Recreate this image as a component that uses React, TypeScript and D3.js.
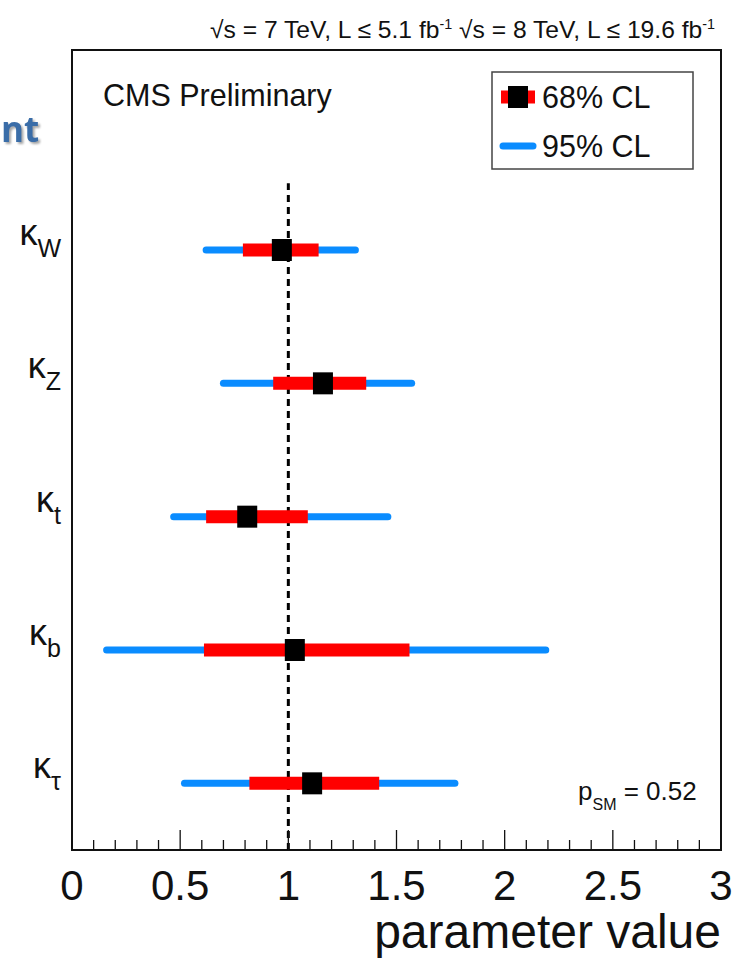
import React from "react";
import * as d3 from "d3";

// coupling modifiers, top to bottom
const params = ["W", "Z", "t", "b", "τ"];
const best = [0.97, 1.16, 0.81, 1.03, 1.11];
const lo68 = [0.79, 0.93, 0.62, 0.61, 0.82];
const hi68 = [1.14, 1.36, 1.09, 1.56, 1.42];
const lo95 = [0.62, 0.7, 0.47, 0.16, 0.52];
const hi95 = [1.31, 1.57, 1.46, 2.19, 1.77];
const xTickLabels = ["0", "0.5", "1", "1.5", "2", "2.5", "3"];

const W = 741, H = 959;
const frame = { left: 72, right: 721, top: 50, bottom: 850 };
const FONT = "'Liberation Sans', Arial, Helvetica, sans-serif";
const BLUE = "#0a8cff";
const RED = "#ff0000";

export default function App() {
  const x = d3.scaleLinear().domain([0, 3]).range([frame.left, frame.right]);
  const y = d3.scaleLinear().domain([0, 6]).range([frame.bottom, frame.top]);
  const rowY = (i: number) => y(params.length - i - 0.5);

  const minor = d3.range(0, 31).map((k) => k / 10);

  return (
    <svg width={W} height={H} style={{ position: "absolute", left: 0, top: 0, background: "#fff" }} fontFamily={FONT}>
      {/* leftover slide title */}
      <text x={1} y={142} fontFamily="'Open Sans', sans-serif" fontWeight={700} fontSize={35}
        fill="#3a6da8" style={{ filter: "drop-shadow(2px 2px 1px rgba(0,0,0,0.35))" }}>nt</text>

      {/* header */}
      <text x={715} y={38} textAnchor="end" fontSize={24} fill="#111" textLength={505} lengthAdjust="spacingAndGlyphs">
        √s = 7 TeV, L ≤ 5.1 fb<tspan dy={-9} fontSize={14}>-1</tspan>
        <tspan dy={9}>  √s = 8 TeV, L ≤ 19.6 fb</tspan>
        <tspan dy={-9} fontSize={14}>-1</tspan>
      </text>

      {/* frame */}
      <rect x={frame.left} y={frame.top} width={frame.right - frame.left} height={frame.bottom - frame.top}
        fill="none" stroke="#111" strokeWidth={2} />

      <text x={103} y={106} fontSize={30.5} fill="#111">CMS Preliminary</text>

      {/* SM line */}
      <line x1={x(1)} x2={x(1)} y1={y(0)} y2={y(5)} stroke="#000" strokeWidth={3} strokeDasharray="7 5" />

      {/* ticks */}
      {minor.map((v) => {
        const major = Math.abs(v * 2 - Math.round(v * 2)) < 1e-6;
        return (
          <line key={v} x1={x(v)} x2={x(v)} y1={frame.bottom} y2={frame.bottom - (major ? 20 : 10)}
            stroke="#111" strokeWidth={1.3} />
        );
      })}
      {xTickLabels.map((t) => (
        <text key={t} x={x(+t)} y={900} textAnchor="middle" fontSize={42} fill="#111">{t}</text>
      ))}
      <text x={frame.right} y={948} textAnchor="end" fontSize={48} fill="#111">parameter value</text>

      {/* intervals */}
      {params.map((p, i) => {
        const cy = rowY(i);
        return (
          <g key={p}>
            <line x1={x(lo95[i])} x2={x(hi95[i])} y1={cy} y2={cy} stroke={BLUE} strokeWidth={7} strokeLinecap="round" />
            <line x1={x(lo68[i])} x2={x(hi68[i])} y1={cy} y2={cy} stroke={RED} strokeWidth={13} />
            <rect x={x(best[i]) - 10} y={cy - 11} width={20} height={22} fill="#000" />
            <text x={61} y={cy - 5} textAnchor="end" fontSize={36} fill="#111">
              κ<tspan dy={12} fontSize={25}>{p}</tspan>
            </text>
          </g>
        );
      })}

      {/* legend */}
      <rect x={492} y={72} width={201} height={97} fill="#fff" stroke="#444" strokeWidth={1.5} />
      <line x1={501} x2={535} y1={97} y2={97} stroke={RED} strokeWidth={13} />
      <rect x={508} y={86} width={20} height={22} fill="#000" />
      <text x={542} y={108} fontSize={30.5} fill="#111">68% CL</text>
      <line x1={503} x2={533} y1={146} y2={146} stroke={BLUE} strokeWidth={7} strokeLinecap="round" />
      <text x={542} y={157} fontSize={30.5} fill="#111">95% CL</text>

      {/* p-value */}
      <text x={578} y={800} fontSize={26} fill="#111">
        p<tspan dy={10} fontSize={16}>SM</tspan>
        <tspan dy={-10}> = 0.52</tspan>
      </text>
    </svg>
  );
}
